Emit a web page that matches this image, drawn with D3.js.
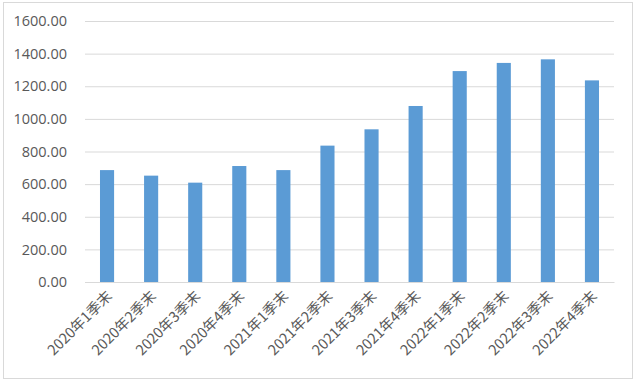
<!DOCTYPE html>
<html><head><meta charset="utf-8">
<script src="https://cdn.jsdelivr.net/npm/d3@7"></script>
<style>body{margin:0;background:#fff}svg{display:block}</style>
</head><body>
<svg id="c" width="636" height="382"></svg>
<script>
const categories = ["2020年1季末","2020年2季末","2020年3季末","2020年4季末","2021年1季末","2021年2季末","2021年3季末","2021年4季末","2022年1季末","2022年2季末","2022年3季末","2022年4季末"];
const values = [686, 652, 609, 711, 686, 836, 936, 1079, 1293, 1343, 1365, 1236];
const yTicks = [0, 200, 400, 600, 800, 1000, 1200, 1400, 1600];

const svg = d3.select("#c");
const W = 636, H = 382;
const m = {left: 85, right: 22, top: 21, bottom: 100};

svg.append("rect").attr("x", 3.5).attr("y", 2.5).attr("width", W - 7).attr("height", H - 6)
  .attr("fill", "#fff").attr("stroke", "#d9d9d9");

const x = d3.scaleBand().domain(categories).range([m.left, W - m.right]).paddingInner(0.68).paddingOuter(0.34);
const y = d3.scaleLinear().domain([0, 1600]).range([H - m.bottom, m.top]);

const ya = svg.append("g").attr("transform", `translate(${m.left},0)`)
  .call(d3.axisLeft(y).tickValues(yTicks).tickSize(-(W - m.right - m.left)).tickPadding(18).tickFormat(d3.format(".2f")));
ya.select(".domain").remove();
ya.selectAll(".tick line").attr("stroke", "#d9d9d9");
ya.selectAll(".tick text").attr("fill", "#595959").style("font-family", "'Open Sans','Noto Sans',sans-serif").style("font-size", "14.5px");

svg.append("g").selectAll("rect").data(values).join("rect")
  .attr("x", (d, i) => x(categories[i]))
  .attr("width", x.bandwidth())
  .attr("y", d => y(d))
  .attr("height", d => y(0) - y(d))
  .attr("fill", "#5B9BD5");

const xa = svg.append("g").attr("transform", `translate(0,${y(0)})`)
  .call(d3.axisBottom(x).tickSize(0).tickPadding(0));
xa.select(".domain").attr("stroke", "#d9d9d9");
xa.selectAll(".tick text")
  .attr("fill", "#595959")
  .style("font-family", "'Noto Sans CJK SC',sans-serif").style("font-size", "14.5px")
  .attr("text-anchor", "end")
  .attr("dy", 0)
  .attr("transform", "translate(6,15) rotate(-45)");
</script>
</body></html>
